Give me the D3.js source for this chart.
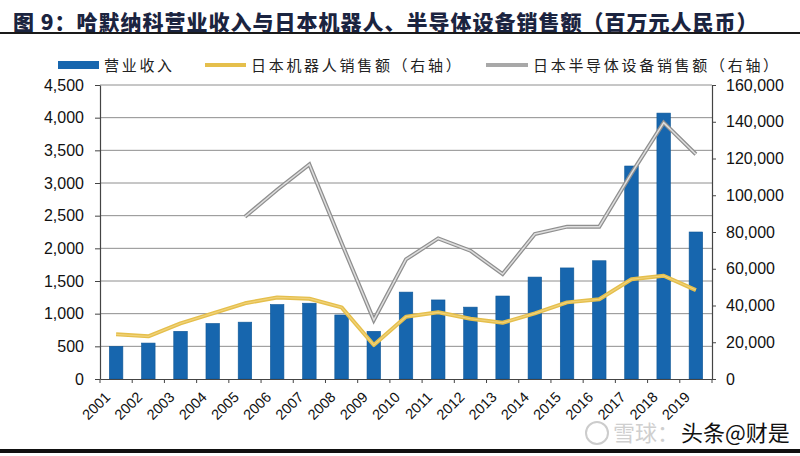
<!DOCTYPE html>
<html><head><meta charset="utf-8">
<script src="https://cdn.jsdelivr.net/npm/d3@7"></script>
<style>body{margin:0;background:#fff}svg{display:block}</style>
</head><body><svg id="c" width="800" height="456"></svg>
<script>
const years = ["2001","2002","2003","2004","2005","2006","2007","2008","2009","2010","2011","2012","2013","2014","2015","2016","2017","2018","2019"];
const revenue = [500,550,730,850,870,1140,1160,980,730,1330,1210,1100,1270,1560,1700,1810,3260,4070,2250];
const robotSales = [24300,23200,30300,35700,41200,44400,43700,39000,18500,33900,36300,32800,30600,35700,41700,43400,54300,56200,48400];
const semiSales = [null,null,null,null,88300,103000,116800,74000,32100,65100,76500,69800,57100,78900,82900,82900,111900,139500,122300];
const leftTicks = [0,500,1000,1500,2000,2500,3000,3500,4000,4500];
const rightTicks = [0,20000,40000,60000,80000,100000,120000,140000,160000];
const titleText = "图 9：哈默纳科营业收入与日本机器人、半导体设备销售额（百万元人民币）";
const legendNames = ["营业收入","日本机器人销售额（右轴）","日本半导体设备销售额（右轴）"];

const svg = d3.select("#c");
const L=100, R=712, T=85, B=379;
const cjk = "'Noto Sans CJK SC','Noto Sans',sans-serif";
const num = "'Liberation Sans',Arial,sans-serif";

// title
svg.append("text").attr("x",13).attr("y",30).text(titleText)
  .attr("font-family",cjk).attr("font-weight",900).attr("font-size",21)
  .attr("letter-spacing",1.0).attr("fill","#1b2440");
svg.append("rect").attr("x",0).attr("y",32).attr("width",800).attr("height",2).attr("fill","#1a1a1a");
svg.append("rect").attr("x",0).attr("y",449).attr("width",800).attr("height",4).attr("fill","#111");

const x = d3.scaleBand().domain(years).range([L,R]).paddingInner(0.58).paddingOuter(0.29);
const xb = d3.scaleBand().domain(years).range([L,R]);
const yL = d3.scaleLinear().domain([0,4500]).range([B,T]);
const yR = d3.scaleLinear().domain([0,160000]).range([B,T]);

// gridlines
svg.append("g").selectAll("line").data(leftTicks.slice(1)).join("line")
  .attr("x1",L).attr("x2",R).attr("y1",d=>yL(d)).attr("y2",d=>yL(d))
  .attr("stroke","#8e8e8e").attr("stroke-width",1);

// bars
svg.append("g").selectAll("rect").data(revenue).join("rect")
  .attr("x",(d,i)=>x(years[i])).attr("width",x.bandwidth())
  .attr("y",d=>yL(d)).attr("height",d=>B-yL(d))
  .attr("fill","#1766ae").attr("stroke","#0f5796").attr("stroke-width",0.6);

const cx = (d,i)=>xb(years[i])+xb.bandwidth()/2;
// robot line
const robotLine = d3.line().x(cx).y(d=>yR(d));
svg.append("path").datum(robotSales).attr("d",robotLine).attr("fill","none")
  .attr("stroke","#e5bf4c").attr("stroke-width",4).attr("stroke-linejoin","round");
svg.append("path").datum(robotSales).attr("d",robotLine).attr("fill","none")
  .attr("stroke","#f0d27a").attr("stroke-width",1.2).attr("stroke-linejoin","round");
// semi line
const semiLine = d3.line().defined(d=>d!=null).x(cx).y(d=>yR(d));
svg.append("path").datum(semiSales).attr("d",semiLine).attr("fill","none")
  .attr("stroke","#8f8f8f").attr("stroke-width",4);
svg.append("path").datum(semiSales).attr("d",semiLine).attr("fill","none")
  .attr("stroke","#dedede").attr("stroke-width",1.5);

// axes
const gl = svg.append("g").attr("transform",`translate(${L},0)`)
  .call(d3.axisLeft(yL).tickValues(leftTicks).tickFormat(d3.format(",")).tickSize(5).tickSizeOuter(0));
const gr = svg.append("g").attr("transform",`translate(${R},0)`)
  .call(d3.axisRight(yR).tickValues(rightTicks).tickFormat(d3.format(",")).tickSize(4).tickSizeOuter(0));
const gx = svg.append("g").attr("transform",`translate(0,${B})`)
  .call(d3.axisBottom(xb).tickValues([]).tickSizeOuter(0));
// x tick marks at band boundaries
svg.append("g").selectAll("line").data(years.concat(["end"])).join("line")
  .attr("x1",(d,i)=>L+i*xb.step()).attr("x2",(d,i)=>L+i*xb.step())
  .attr("y1",B).attr("y2",B+4).attr("stroke","#444");
[gl,gr,gx].forEach(g=>{
  g.selectAll("path.domain").attr("stroke","#444").attr("stroke-width",1.2);
  g.selectAll(".tick line").attr("stroke","#444");
  g.selectAll("text").attr("font-family",num).attr("font-size",16).attr("fill","#111");
});
gl.selectAll("text").attr("x",-16);
gr.selectAll("text").attr("x",14);

// x labels
svg.append("g").selectAll("text").data(years).join("text")
  .attr("transform",d=>`translate(${xb(d)+xb.bandwidth()/2-5},${B+19}) rotate(-45)`)
  .attr("text-anchor","end").attr("font-family",num).attr("font-size",14.5).attr("fill","#111")
  .text(d=>d);

// legend
const lg = svg.append("g").attr("font-family",cjk).attr("font-size",15).attr("fill","#222").attr("letter-spacing",2.7);
lg.append("rect").attr("x",58).attr("y",61).attr("width",41).attr("height",8).attr("fill","#1766ae");
lg.append("text").attr("x",104).attr("y",71).text(legendNames[0]);
lg.append("line").attr("x1",205).attr("x2",246).attr("y1",65).attr("y2",65).attr("stroke","#e5bf4c").attr("stroke-width",4);
lg.append("text").attr("x",251).attr("y",71).text(legendNames[1]);
lg.append("line").attr("x1",486).attr("x2",528).attr("y1",65).attr("y2",65).attr("stroke","#a8a8a8").attr("stroke-width",4);
lg.append("text").attr("x",533).attr("y",71).text(legendNames[2]);

// watermark
const wm = svg.append("g").attr("font-family",cjk).attr("font-size",22);
wm.append("circle").attr("cx",597).attr("cy",433).attr("r",11).attr("fill","none").attr("stroke","#ccc").attr("stroke-width",2);
wm.append("text").attr("x",613).attr("y",441).attr("fill","#cfcfcf").text("雪球：");
wm.append("text").attr("x",681).attr("y",441).attr("fill","#111").text("头条@财是");
</script></body></html>
